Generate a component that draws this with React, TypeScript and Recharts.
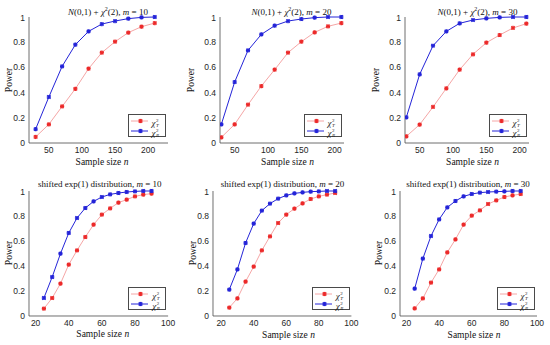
import React from "react";
import { LineChart, Line, XAxis, YAxis } from "recharts";

// ─── Data ─────────────────────────────────────────────────────────────────────

const SIZES_NORMAL = [30, 50, 70, 90, 110, 130, 150, 170, 190, 210];
const SIZES_EXP = [25, 30, 35, 40, 45, 50, 55, 60, 65, 70, 75, 80, 85, 90];

const TICKS_NORMAL = [50, 100, 150, 200];
const TICKS_EXP = [20, 40, 60, 80, 100];
const POWER_TICKS = [0, 0.2, 0.4, 0.6, 0.8, 1];

const NORMAL_M10_T = [0.048, 0.148, 0.29, 0.43, 0.59, 0.717, 0.804, 0.876, 0.923, 0.952];
const NORMAL_M10_R = [0.11, 0.365, 0.608, 0.78, 0.886, 0.944, 0.968, 0.987, 0.997, 1.0];
const NORMAL_M20_T = [0.045, 0.148, 0.304, 0.452, 0.582, 0.717, 0.804, 0.878, 0.926, 0.952];
const NORMAL_M20_R = [0.148, 0.484, 0.735, 0.862, 0.931, 0.968, 0.984, 0.995, 1.0, 1.0];
const NORMAL_M30_T = [0.053, 0.146, 0.286, 0.434, 0.582, 0.704, 0.796, 0.857, 0.913, 0.947];
const NORMAL_M30_R = [0.204, 0.545, 0.772, 0.886, 0.95, 0.976, 0.989, 0.997, 1.0, 1.0];

const EXP_M10_T = [0.059, 0.144, 0.259, 0.411, 0.525, 0.632, 0.731, 0.811, 0.861, 0.907, 0.931, 0.957, 0.971, 0.979];
const EXP_M10_R = [0.144, 0.312, 0.499, 0.664, 0.784, 0.864, 0.917, 0.952, 0.973, 0.984, 0.992, 0.997, 1.0, 1.0];
const EXP_M20_T = [0.067, 0.141, 0.275, 0.395, 0.525, 0.637, 0.744, 0.811, 0.859, 0.901, 0.936, 0.957, 0.971, 0.984];
const EXP_M20_R = [0.211, 0.373, 0.584, 0.739, 0.843, 0.899, 0.939, 0.965, 0.981, 0.989, 0.995, 0.997, 1.0, 1.0];
const EXP_M30_T = [0.061, 0.141, 0.267, 0.373, 0.509, 0.613, 0.731, 0.803, 0.845, 0.896, 0.925, 0.952, 0.965, 0.976];
const EXP_M30_R = [0.219, 0.459, 0.64, 0.773, 0.869, 0.92, 0.957, 0.976, 0.987, 0.992, 0.995, 0.997, 1.0, 1.0];

// ─── Styling ──────────────────────────────────────────────────────────────────

const RED_LINE = "#f5a6a6";
const RED_MARK = "#ec2a2a";
const BLUE = "#2424d8";
const AXIS = "#4a4a4a";
const SANS = "'Liberation Sans', Arial, sans-serif";
const SERIF = "'Liberation Serif', 'Times New Roman', serif";

const Star = ({ cx, cy, color }: any) => {
  if (cx == null || cy == null) return null;
  const d = 2.1;
  return (
    <g stroke={color} strokeWidth={1.3}>
      <line x1={cx - d} y1={cy} x2={cx + d} y2={cy} />
      <line x1={cx} y1={cy - d} x2={cx} y2={cy + d} />
      <line x1={cx - d * 0.8} y1={cy - d * 0.8} x2={cx + d * 0.8} y2={cy + d * 0.8} />
      <line x1={cx - d * 0.8} y1={cy + d * 0.8} x2={cx + d * 0.8} y2={cy - d * 0.8} />
    </g>
  );
};

const Chi = ({ sub }: { sub: string }) => (
  <span style={{ display: "inline-flex", alignItems: "center" }}>
    <span style={{ fontStyle: "italic", fontSize: 9 }}>χ</span>
    <span style={{ display: "inline-flex", flexDirection: "column", fontSize: 5, lineHeight: "5px", marginLeft: 0.5 }}>
      <span>2</span>
      <span style={{ fontStyle: "italic" }}>{sub}</span>
    </span>
  </span>
);

const LegendBox = ({ left, top }: { left: number; top: number }) => (
  <div style={{ position: "absolute", left, top, border: `0.8px solid ${AXIS}`, background: "#fff", width: 38, height: 23, fontFamily: SERIF, color: "#222", boxSizing: "border-box", padding: "1px 2px" }}>
    {[
      { line: RED_LINE, mark: RED_MARK, sub: "T" },
      { line: BLUE, mark: BLUE, sub: "R" },
    ].map((row) => (
      <div key={row.sub} style={{ display: "flex", alignItems: "center", height: 10 }}>
        <svg width={18} height={8} style={{ display: "block" }}>
          <line x1={0} y1={4} x2={17} y2={4} stroke={row.line} strokeWidth={1} />
          <Star cx={9.5} cy={4} color={row.mark} />
        </svg>
        <span style={{ marginLeft: 3 }}><Chi sub={row.sub} /></span>
      </div>
    ))}
  </div>
);

// ─── Panels ───────────────────────────────────────────────────────────────────

const normalTitle = (m: number) => (
  <span>
    <i>N</i>(0,1) + <i>χ</i><sup style={{ fontSize: 6 }}>2</sup>(2), <i>m</i> = {m}
  </span>
);
const expTitle = (m: number) => (
  <span>
    shifted exp(1) distribution, <i>m</i> = {m}
  </span>
);

const PANELS = [
  { key: "n10", title: normalTitle(10), sizes: SIZES_NORMAL, t: NORMAL_M10_T, r: NORMAL_M10_R, ticks: TICKS_NORMAL, domain: [20, 230], box: [28.5, 167.5, 16.5, 142.5], titleDx: 10, titleY: 9, labelDx: 4, labelY: 162, powerDx: -19.5 },
  { key: "n20", title: normalTitle(20), sizes: SIZES_NORMAL, t: NORMAL_M20_T, r: NORMAL_M20_R, ticks: TICKS_NORMAL, domain: [28, 214], box: [219.5, 343.5, 16.5, 142.5], titleDx: 10, titleY: 9, labelDx: 6, labelY: 162, powerDx: -29 },
  { key: "n30", title: normalTitle(30), sizes: SIZES_NORMAL, t: NORMAL_M30_T, r: NORMAL_M30_R, ticks: TICKS_NORMAL, domain: [28, 214], box: [404.5, 528.5, 16.5, 142.5], titleDx: 11, titleY: 9, labelDx: 6, labelY: 162, powerDx: -29 },
  { key: "e10", title: expTitle(10), sizes: SIZES_EXP, t: EXP_M10_T, r: EXP_M10_R, ticks: TICKS_EXP, domain: [16, 100], box: [29.2, 168.3, 190.7, 315.7], titleDx: 1, titleY: 184, labelDx: 4, labelY: 334, powerDx: -20 },
  { key: "e20", title: expTitle(20), sizes: SIZES_EXP, t: EXP_M20_T, r: EXP_M20_R, ticks: TICKS_EXP, domain: [15, 100], box: [213.3, 351.7, 190.7, 315.7], titleDx: 0, titleY: 184, labelDx: 6, labelY: 335, powerDx: -20 },
  { key: "e30", title: expTitle(30), sizes: SIZES_EXP, t: EXP_M30_T, r: EXP_M30_R, ticks: TICKS_EXP, domain: [16, 100], box: [399.5, 536.5, 190.7, 315.7], titleDx: 0, titleY: 184, labelDx: 6, labelY: 335, powerDx: -21 },
];

const Y_W = 30;
const X_H = 20;
const PAD = 4;
const PAD_R = 12;

const Panel = ({ p }: { p: (typeof PANELS)[number] }) => {
  const [l, r, t, b] = p.box;
  const data = p.sizes.map((n, i) => ({ n, t: p.t[i], r: p.r[i] }));
  const w = r - l + Y_W + PAD_R;
  const h = b - t + PAD + X_H;
  const cx = (l + r) / 2;
  const cy = (t + b) / 2;

  return (
    <>
      <div style={{ position: "absolute", left: l - Y_W, top: t - PAD }}>
        <LineChart width={w} height={h} data={data} margin={{ top: PAD, right: PAD_R, bottom: 0, left: 0 }}>
          <XAxis
            dataKey="n"
            type="number"
            domain={p.domain}
            ticks={p.ticks}
            allowDataOverflow
            height={X_H}
            axisLine={{ stroke: AXIS, strokeWidth: 0.8 }}
            tickLine={false}
            tickSize={2}
            tickMargin={2}
            tick={{ fill: "#262626", fontSize: 8.5, fontFamily: SANS }}
          />
          <XAxis xAxisId="top" orientation="top" dataKey="n" type="number" domain={p.domain} height={0} tick={false} tickLine={false} axisLine={{ stroke: AXIS, strokeWidth: 0.8 }} />
          <YAxis
            type="number"
            domain={[0, 1]}
            ticks={POWER_TICKS}
            width={Y_W}
            axisLine={{ stroke: AXIS, strokeWidth: 0.8 }}
            tickLine={false}
            tickSize={2}
            tickMargin={2}
            tick={{ fill: "#262626", fontSize: 8.5, fontFamily: SANS }}
          />
          <YAxis yAxisId="right" orientation="right" type="number" domain={[0, 1]} width={0} tick={false} tickLine={false} axisLine={{ stroke: AXIS, strokeWidth: 0.8 }} />
          <Line dataKey="t" stroke={RED_LINE} strokeWidth={1} dot={<Star color={RED_MARK} />} isAnimationActive={false} />
          <Line dataKey="r" stroke={BLUE} strokeWidth={1} dot={<Star color={BLUE} />} isAnimationActive={false} />
        </LineChart>
      </div>
      <LegendBox left={r - 40} top={b - 29} />
      <div style={{ position: "absolute", left: cx + p.titleDx - 80, width: 160, top: p.titleY - 6, textAlign: "center", fontFamily: SERIF, fontSize: 9, color: "#111", whiteSpace: "nowrap", lineHeight: "12px" }}>
        {p.title}
      </div>
      <div style={{ position: "absolute", left: cx + p.labelDx - 50, width: 100, top: p.labelY - 6, textAlign: "center", fontFamily: SERIF, fontSize: 9.5, color: "#111", lineHeight: "12px" }}>
        Sample size <i>n</i>
      </div>
      <div style={{ position: "absolute", left: l + p.powerDx - 30, width: 60, top: cy - 6, textAlign: "center", fontFamily: SERIF, fontSize: 9.5, color: "#111", lineHeight: "12px", transform: "rotate(-90deg)" }}>
        Power
      </div>
    </>
  );
};

export default function App() {
  return (
    <div style={{ position: "absolute", left: 0, top: 0, width: 550, height: 345, background: "#fff", overflow: "hidden" }}>
      {PANELS.map((p) => (
        <Panel key={p.key} p={p} />
      ))}
    </div>
  );
}
